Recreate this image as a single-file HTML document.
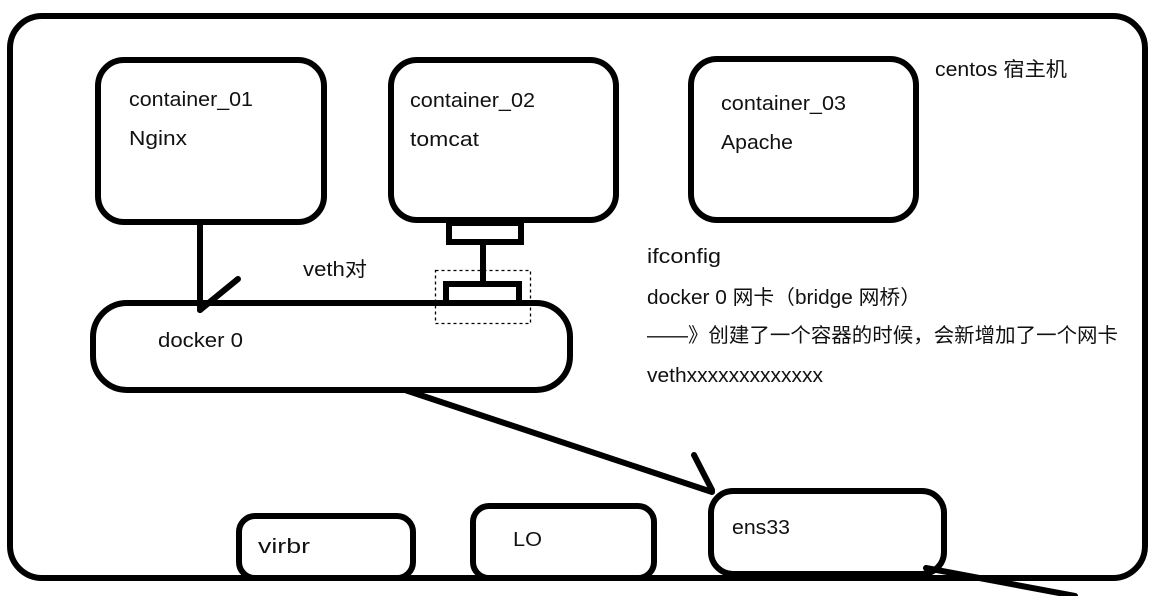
<!DOCTYPE html>
<html><head><meta charset="utf-8"><style>
html,body{margin:0;padding:0;background:#fff;width:1160px;height:596px;overflow:hidden}
text{font-family:"Liberation Sans","Noto Sans CJK SC",sans-serif;font-size:20px;fill:#111}
</style></head><body>
<svg width="1160" height="596" viewBox="0 0 1160 596" xmlns="http://www.w3.org/2000/svg">
<g fill="none" stroke="#000" stroke-width="6" stroke-linecap="round">
<rect x="10" y="16" width="1135" height="562" rx="32"/>
<rect x="98" y="60" width="226" height="162" rx="26"/>
<rect x="391" y="60" width="225" height="160" rx="26"/>
<rect x="691" y="59" width="225" height="161" rx="26"/>
<rect x="93" y="303" width="477" height="87" rx="34"/>
<rect x="449" y="223" width="72" height="19"/>
<rect x="446" y="284" width="73" height="19"/>
<line x1="483" y1="243" x2="483" y2="283"/>
<line x1="200" y1="222" x2="200" y2="310"/>
<line x1="200" y1="310" x2="238" y2="279"/>
<line x1="405" y1="390" x2="712" y2="492"/>
<line x1="694" y1="455" x2="712" y2="490"/>
<rect x="711" y="491" width="233" height="83" rx="22"/>
<rect x="239" y="516" width="174" height="62" rx="16"/>
<rect x="473" y="506" width="181" height="72" rx="16"/>
<line x1="926" y1="568" x2="1075" y2="596"/>
</g>
<rect x="435.5" y="270.5" width="95" height="53" fill="none" stroke="#000" stroke-width="1.3" stroke-dasharray="3,3"/>
<g lengthAdjust="spacingAndGlyphs">
<text x="129" y="106" textLength="124" lengthAdjust="spacingAndGlyphs">container_01</text>
<text x="129" y="145" textLength="58" lengthAdjust="spacingAndGlyphs">Nginx</text>
<text x="410" y="107" textLength="125" lengthAdjust="spacingAndGlyphs">container_02</text>
<text x="410" y="146" textLength="69" lengthAdjust="spacingAndGlyphs">tomcat</text>
<text x="721" y="110" textLength="125" lengthAdjust="spacingAndGlyphs">container_03</text>
<text x="721" y="149" textLength="72" lengthAdjust="spacingAndGlyphs">Apache</text>
<text x="935" y="76" textLength="132" lengthAdjust="spacingAndGlyphs">centos 宿主机</text>
<text x="303" y="276" textLength="64" lengthAdjust="spacingAndGlyphs">veth对</text>
<text x="158" y="347" textLength="85" lengthAdjust="spacingAndGlyphs">docker 0</text>
<text x="647" y="263" textLength="74" lengthAdjust="spacingAndGlyphs">ifconfig</text>
<text x="647" y="304" textLength="274" lengthAdjust="spacingAndGlyphs">docker 0 网卡（bridge 网桥）</text>
<text x="647" y="342" textLength="471" lengthAdjust="spacingAndGlyphs">——》创建了一个容器的时候，会新增加了一个网卡</text>
<text x="647" y="382" textLength="176" lengthAdjust="spacingAndGlyphs">vethxxxxxxxxxxxxx</text>
<text x="732" y="534" textLength="58" lengthAdjust="spacingAndGlyphs">ens33</text>
<text x="258" y="553" textLength="52" lengthAdjust="spacingAndGlyphs">virbr</text>
<text x="513" y="546" textLength="29" lengthAdjust="spacingAndGlyphs">LO</text>
</g>
</svg>
</body></html>
